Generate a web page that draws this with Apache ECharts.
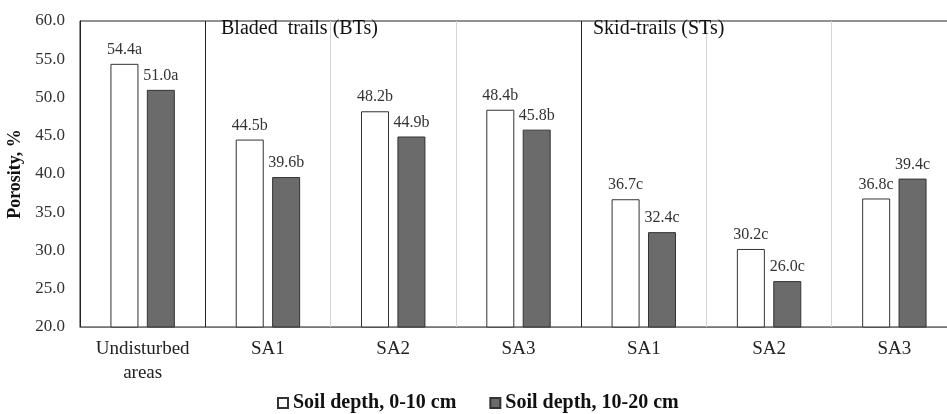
<!DOCTYPE html>
<html>
<head>
<meta charset="utf-8">
<script src="https://cdn.jsdelivr.net/npm/echarts@6/dist/echarts.min.js"></script>
<style>html,body{margin:0;padding:0;background:#fff}#c{width:947px;height:414px}</style>
</head>
<body>
<div id="c"></div>
<script>
const categories = ['Undisturbed\nareas', 'SA1', 'SA2', 'SA3', 'SA1', 'SA2', 'SA3'];
const seriesNames = ['Soil depth, 0-10 cm', 'Soil depth, 10-20 cm'];
const depth0to10 = [54.4, 44.5, 48.2, 48.4, 36.7, 30.2, 36.8];
const depth10to20 = [51.0, 39.6, 44.9, 45.8, 32.4, 26.0, 39.4];
const letters0to10 = ['a', 'b', 'b', 'b', 'c', 'c', 'c'];
const letters10to20 = ['a', 'b', 'b', 'b', 'c', 'c', 'c'];
const groupTitles = ['Bladed  trails (BTs)', 'Skid-trails (STs)'];
const yTicks = { min: 20, max: 60, interval: 5 };

const serif = 'Liberation Serif, Times New Roman, serif';
const chart = echarts.init(document.getElementById('c'));

function labelFor(letters) {
  return {
    show: true, position: 'top', distance: 6,
    fontFamily: serif, fontSize: 16, color: '#333',
    formatter: p => p.value.toFixed(1) + letters[p.dataIndex]
  };
}

chart.setOption({
  animation: false,
  backgroundColor: '#fff',
  grid: { left: 80, top: 21, width: 877, bottom: 87, show: true, borderColor: '#222', borderWidth: 1, backgroundColor: 'transparent', containLabel: false, outerBoundsMode: 'none' },
  title: [
    { text: groupTitles[0], left: 216, top: 14, textStyle: { fontFamily: serif, fontSize: 20, fontWeight: 'normal', color: '#111' } },
    { text: groupTitles[1], left: 588, top: 14, textStyle: { fontFamily: serif, fontSize: 20, fontWeight: 'normal', color: '#111' } }
  ],
  legend: {
    left: 272, top: 388, itemWidth: 10, itemHeight: 10, itemGap: 33, icon: 'rect',
    textStyle: { fontFamily: serif, fontSize: 20, fontWeight: 'bold', color: '#111' },
    data: seriesNames
  },
  xAxis: {
    type: 'category', data: categories,
    axisLine: { show: true, lineStyle: { color: '#777', width: 1 } },
    axisTick: { show: false },
    axisLabel: { fontFamily: serif, fontSize: 19, color: '#222', margin: 10, lineHeight: 24, interval: 0 },
    splitLine: { show: true, lineStyle: { color: ['#222', '#222', '#d4d4d4', '#d4d4d4', '#222', '#d4d4d4', '#d4d4d4', '#222'], width: 1 } }
  },
  yAxis: {
    type: 'value', min: yTicks.min, max: yTicks.max, interval: yTicks.interval,
    name: 'Porosity, %', nameLocation: 'middle', nameGap: 52, nameRotate: 90,
    nameTextStyle: { fontFamily: serif, fontSize: 18, fontWeight: 'bold', color: '#111' },
    axisLine: { show: true, lineStyle: { color: '#222' } },
    axisTick: { show: false },
    splitLine: { show: false },
    axisLabel: { fontFamily: serif, fontSize: 17, color: '#333', margin: 15, formatter: v => v.toFixed(1) }
  },
  series: [
    { name: seriesNames[0], type: 'bar', data: depth0to10, barWidth: 28, barGap: '30%',
      itemStyle: { color: '#ffffff', borderColor: '#333', borderWidth: 1 }, label: labelFor(letters0to10) },
    { name: seriesNames[1], type: 'bar', data: depth10to20, barWidth: 28, barGap: '30%',
      itemStyle: { color: '#6b6b6b', borderColor: '#333', borderWidth: 1 }, label: labelFor(letters10to20) }
  ]
});
</script>
</body>
</html>
